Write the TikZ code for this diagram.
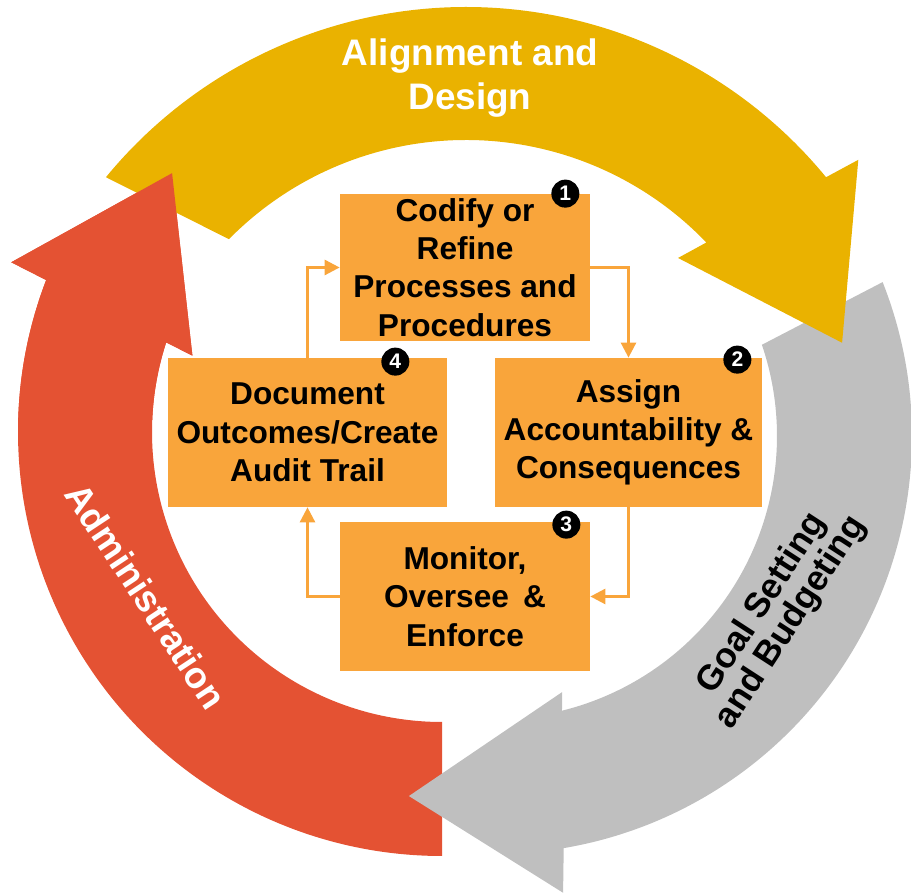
\documentclass[tikz,border=0pt]{standalone}
\usepackage{fontspec}
\setmainfont{Liberation Sans}
\usetikzlibrary{arrows.meta}

\definecolor{ringyellow}{RGB}{234,178,0}
\definecolor{adminred}{RGB}{228,82,51}
\definecolor{goalgray}{RGB}{191,191,191}
\definecolor{boxorange}{RGB}{249,165,59}

% outline of the red arrow, around its own centre
\newcommand{\adminarrow}{%
  (270:8.48) arc[start angle=270, end angle=159, radius=8.48]
  -- (158.5:9.26) -- (136.2:7.48) -- (163:5.22) -- (162:5.80)
  arc[start angle=162, end angle=270, radius=5.80] -- cycle}

\tikzset{
  stepbox/.style={
    fill=boxorange,
    inner sep=0pt,
    align=center,
    font=\bfseries\fontsize{18}{21.8}\selectfont
  },
  num/.style={
    circle,
    fill=black,
    text=white,
    inner sep=0pt,
    minimum size=0.56cm,
    font=\bfseries\fontsize{12}{12}\selectfont
  },
  flow/.style={
    draw=boxorange,
    line width=1.5pt,
    -{Triangle[length=0.3cm,width=0.3cm]}
  },
  ringlabel/.style={
    align=center,
    font=\bfseries\fontsize{21}{25}\selectfont
  }
}

\begin{document}
\begin{tikzpicture}
  \useasboundingbox (0,0) rectangle (18.22,17.88);

  % Administration (red)
  \begin{scope}[shift={(8.84,9.24)}]
    \fill[adminred] \adminarrow;
  \end{scope}

  % Goal Setting and Budgeting (gray)
  \begin{scope}[shift={(9.88,9.16)}]
    \fill[
      color=goalgray
    ] (21.6:8.36) arc[start angle=21.6, end angle=-80.4, radius=8.36]
      -- (-81.4:9.24) -- (-103.3:7.40) -- (-75.1:5.30) -- (-76.1:5.66)
      arc[start angle=-76.1, end angle=18.8, radius=5.66] -- cycle;
  \end{scope}

  % Alignment and Design (yellow)
  \begin{scope}[shift={(9.32,8.42)}]
    \fill[
      color=ringyellow
    ] (140.6:9.32) arc[start angle=140.6, end angle=39.4, radius=9.32]
      -- (38.6:10.04) -- (19.1:7.96) -- (45.4:6.04) -- (43.8:6.66)
      arc[start angle=43.8, end angle=135.4, radius=6.66] -- cycle;
  \end{scope}

  % red head lies on top of the yellow tail
  \begin{scope}
    \clip (0,9.48) rectangle (6,15.88);
    \begin{scope}[shift={(8.84,9.24)}]
      \fill[adminred] \adminarrow;
    \end{scope}
  \end{scope}

  % the four steps
  \node[stepbox, minimum width=5cm, minimum height=2.94cm] (proc) at (9.3,12.53)
    {Codify or\\Refine\\Processes and\\Procedures};
  \node[stepbox, minimum width=5.34cm, minimum height=2.98cm] (assign) at (12.57,9.23)
    {Assign\\Accountability \&\\Consequences};
  \node[stepbox, minimum width=5cm, minimum height=2.98cm] (monitor) at (9.3,5.95)
    {Monitor,\\Oversee \,\&\\Enforce};
  \node[stepbox, minimum width=5.58cm, minimum height=2.98cm] (docu) at (6.15,9.23)
    {Document\\Outcomes/Create\\Audit Trail};

  \node[num] (n1) at ([xshift=-0.5cm]proc.north east) {1};
  \node[num] (n2) at ([xshift=-0.5cm,yshift=-0.04cm]assign.north east) {2};
  \node[num] (n3) at ([xshift=-0.48cm,yshift=-0.06cm]monitor.north east) {3};
  \node[num] (n4) at ([xshift=-1.04cm,yshift=-0.08cm]docu.north east) {4};

  % loop between the steps
  \draw[flow] (proc.east) -| (assign.north);
  \draw[flow] (assign.south) |- (monitor.east);
  \draw[flow] (monitor.west) -| (docu.south);
  \draw[flow] (docu.north) |- (proc.west);

  % ring labels
  \node[ringlabel, text=white] (design) at (9.4,16.31) {Alignment and\\Design};
  \node[ringlabel, text=white, rotate=-56.6] (admin) at (2.92,5.96) {Administration};
  \node[ringlabel, font=\bfseries\fontsize{20}{19.5}\selectfont, rotate=57] (goal) at (15.54,5.62)
    {Goal Setting\\and Budgeting};
\end{tikzpicture}
\end{document}
